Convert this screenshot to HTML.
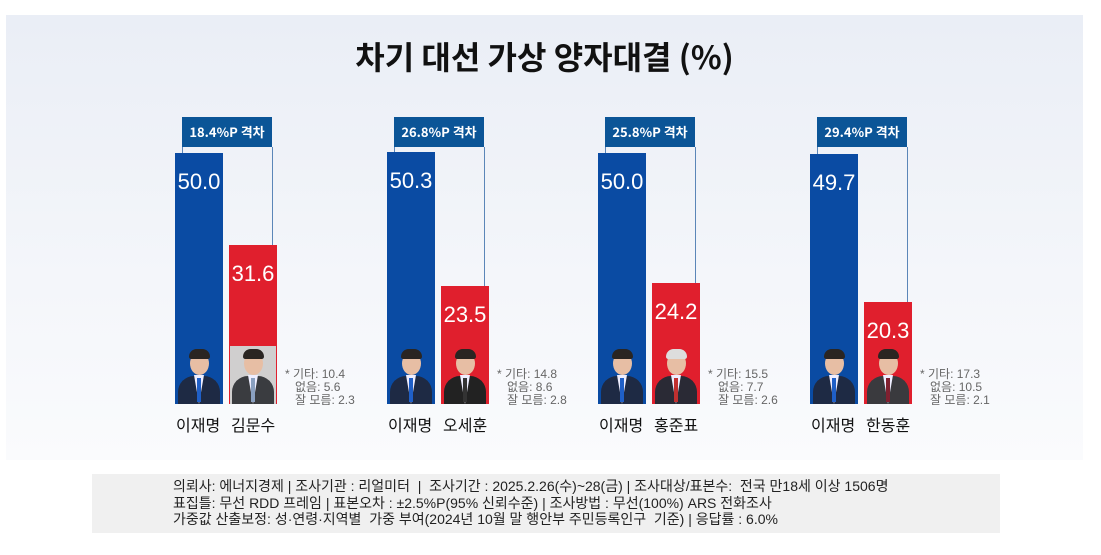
<!DOCTYPE html>
<html><head><meta charset="utf-8"><style>
*{margin:0;padding:0;box-sizing:border-box}
body{width:1101px;height:555px;background:#fff;position:relative;overflow:hidden;font-family:"Liberation Sans","Noto Sans CJK KR",sans-serif}
.panel{position:absolute;left:6px;top:15px;width:1077px;height:445px;background:linear-gradient(#eaeef6,#f4f6fa 60%,#fafbfd)}
.title{position:absolute;left:0;width:1089px;top:33px;text-align:center;font-size:32px;font-weight:bold;color:#111;font-family:"Noto Sans CJK KR",sans-serif}
.bar{position:absolute;width:48px;color:#fff;font-size:22px;text-align:center;padding-top:16px}
.b{background:#0a4ba3}.r{background:#e01f2d}
.box{position:absolute;top:117px;height:30px;width:90px;background:#0b5597;color:#fff;font-weight:bold;font-size:13px;text-align:center;line-height:30px;font-family:"Noto Sans CJK KR",sans-serif}
.ln{position:absolute;width:1px;background:#5b86b8}
.ph{position:absolute;top:346px;width:46px;height:58px;overflow:hidden}
.face{position:absolute;left:14px;top:6px;width:19px;height:23px;border-radius:50%;background:#e7bea4}
.hair{position:absolute;left:13px;top:3px;width:21px;height:10px;border-radius:10px 10px 3px 3px;background:#2a2522}
.suit{position:absolute;left:2px;top:30px;width:42px;height:30px;border-radius:16px 16px 0 0;background:#1e2a44}
.shirt{position:absolute;left:18px;top:29px;width:10px;height:29px;background:#eef;clip-path:polygon(0 0,100% 0,50% 100%)}
.tie{position:absolute;left:21px;top:32px;width:4px;height:24px;background:#1f5fc7}
.nm{position:absolute;top:412px;font-size:16px;color:#111;font-family:"Noto Sans CJK KR",sans-serif}
.note{position:absolute;top:368px;font-size:12px;line-height:13px;color:#666;font-family:"Liberation Sans","Noto Sans CJK KR",sans-serif}
.foot{position:absolute;left:92px;top:474px;width:908px;height:59px;background:#f0f0f0;padding:4px 0 0 81px;font-size:14px;line-height:16.5px;color:#222;font-family:"Liberation Sans","Noto Sans CJK KR",sans-serif;white-space:nowrap}
</style></head><body>
<div class="panel"></div>
<div class="title">차기 대선 가상 양자대결 (%)</div>

<div class="ln" style="left:182px;top:147px;height:7px"></div>
<div class="ln" style="left:272px;top:147px;height:99px"></div>
<div class="box" style="left:182px">18.4%P 격차</div>
<div class="bar b" style="left:175px;top:153px;height:251px">50.0</div>
<div class="bar r" style="left:229px;top:245px;height:159px">31.6</div>

<div class="ln" style="left:394px;top:147px;height:6px"></div>
<div class="ln" style="left:484px;top:147px;height:140px"></div>
<div class="box" style="left:394px">26.8%P 격차</div>
<div class="bar b" style="left:387px;top:152px;height:252px">50.3</div>
<div class="bar r" style="left:441px;top:286px;height:118px">23.5</div>

<div class="ln" style="left:605px;top:147px;height:7px"></div>
<div class="ln" style="left:695px;top:147px;height:136px"></div>
<div class="box" style="left:605px">25.8%P 격차</div>
<div class="bar b" style="left:598px;top:153px;height:251px">50.0</div>
<div class="bar r" style="left:652px;top:283px;height:121px">24.2</div>

<div class="ln" style="left:817px;top:147px;height:8px"></div>
<div class="ln" style="left:907px;top:147px;height:156px"></div>
<div class="box" style="left:817px">29.4%P 격차</div>
<div class="bar b" style="left:810px;top:154px;height:250px">49.7</div>
<div class="bar r" style="left:864px;top:302px;height:102px">20.3</div>

<div class="ph" style="left:176px;background:#0a4ba3"><div class="suit"></div><div class="shirt"></div><div class="tie"></div><div class="face"></div><div class="hair"></div></div>
<div class="ph" style="left:230px;background:#d0cfcf"><div class="suit" style="background:#3a3c40"></div><div class="shirt"></div><div class="tie" style="background:#8aa0c0"></div><div class="face"></div><div class="hair"></div></div>
<div class="ph" style="left:388px;background:#0a4ba3"><div class="suit"></div><div class="shirt"></div><div class="tie"></div><div class="face"></div><div class="hair"></div></div>
<div class="ph" style="left:442px;background:#e01f2d"><div class="suit" style="background:#222"></div><div class="shirt"></div><div class="tie" style="background:#333"></div><div class="face"></div><div class="hair"></div></div>
<div class="ph" style="left:599px;background:#0a4ba3"><div class="suit"></div><div class="shirt"></div><div class="tie"></div><div class="face"></div><div class="hair"></div></div>
<div class="ph" style="left:653px;background:#e01f2d"><div class="suit" style="background:#2a2a35"></div><div class="shirt"></div><div class="tie" style="background:#c03030"></div><div class="face"></div><div class="hair" style="background:#ddd"></div></div>
<div class="ph" style="left:811px;background:#0a4ba3"><div class="suit"></div><div class="shirt"></div><div class="tie"></div><div class="face"></div><div class="hair"></div></div>
<div class="ph" style="left:865px;background:#e01f2d"><div class="suit" style="background:#3a3a3e"></div><div class="shirt"></div><div class="tie" style="background:#802030"></div><div class="face"></div><div class="hair"></div></div>

<div class="nm" style="left:176px">이재명</div><div class="nm" style="left:231px">김문수</div>
<div class="nm" style="left:388px">이재명</div><div class="nm" style="left:443px">오세훈</div>
<div class="nm" style="left:599px">이재명</div><div class="nm" style="left:654px">홍준표</div>
<div class="nm" style="left:811px">이재명</div><div class="nm" style="left:866px">한동훈</div>

<div class="note" style="left:285px">* 기타: 10.4<br>&nbsp;&nbsp;&nbsp;없음: 5.6<br>&nbsp;&nbsp;&nbsp;잘 모름: 2.3</div>
<div class="note" style="left:497px">* 기타: 14.8<br>&nbsp;&nbsp;&nbsp;없음: 8.6<br>&nbsp;&nbsp;&nbsp;잘 모름: 2.8</div>
<div class="note" style="left:708px">* 기타: 15.5<br>&nbsp;&nbsp;&nbsp;없음: 7.7<br>&nbsp;&nbsp;&nbsp;잘 모름: 2.6</div>
<div class="note" style="left:920px">* 기타: 17.3<br>&nbsp;&nbsp;&nbsp;없음: 10.5<br>&nbsp;&nbsp;&nbsp;잘 모름: 2.1</div>

<div class="foot">의뢰사: 에너지경제 | 조사기관 : 리얼미터 &nbsp;| &nbsp;조사기간 : 2025.2.26(수)~28(금) | 조사대상/표본수: &nbsp;전국 만18세 이상 1506명<br>표집틀: 무선 RDD 프레임 | 표본오차 : ±2.5%P(95% 신뢰수준) | 조사방법 : 무선(100%) ARS 전화조사<br>가중값 산출보정: 성·연령·지역별 &nbsp;가중 부여(2024년 10월 말 행안부 주민등록인구 &nbsp;기준) | 응답률 : 6.0%</div>
</body></html>
